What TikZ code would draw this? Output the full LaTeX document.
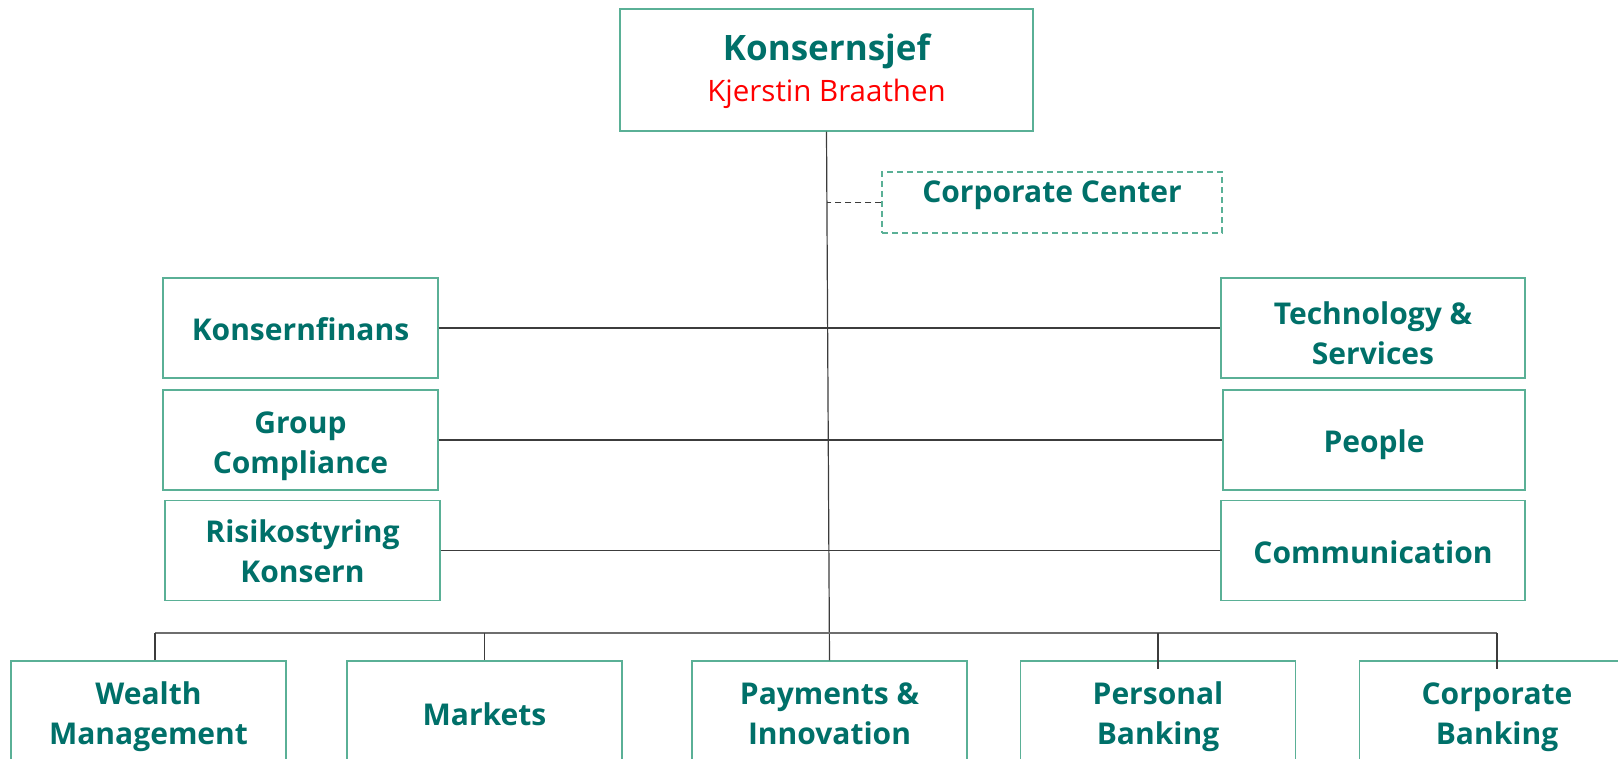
\documentclass[tikz,border=0pt]{standalone}
\usepackage{fontspec}
\setmainfont{Open Sans}
\definecolor{dnbteal}{RGB}{0,112,105}
\definecolor{boxgreen}{RGB}{90,176,150}
\definecolor{linegray}{RGB}{60,60,60}
\definecolor{busgray}{RGB}{110,110,110}
\begin{document}
\begin{tikzpicture}[x=1pt,y=-1pt,
  box/.style={draw=boxgreen, line width=1.4pt, fill=white, text=dnbteal,
    font=\bfseries\fontsize{30}{40}\selectfont, align=center, inner sep=0pt,
    minimum width=275pt, minimum height=100pt},
  oneline/.style={text height=25pt, text depth=0pt},
  twoline/.style={text height=#1, text depth=0pt},
  bottombox/.style={box, minimum height=104pt},
  conn/.style={draw=linegray, line width=1.2pt},
  busline/.style={draw=busgray, line width=2pt},
  dashconn/.style={draw=linegray, line width=1.3pt, dash pattern=on 6pt off 4pt}]
\useasboundingbox (0,0) rectangle (1618,759);

\node[box, minimum width=413pt, minimum height=122pt, text height=70pt, text depth=7pt] (boss) at (826.5,70)
  {{\fontsize{35}{42}\selectfont Konsernsjef}\\[1pt]{\color{red}\mdseries\fontsize{29.5}{34}\selectfont Kjerstin Braathen}};

\node[box, dashconn, draw=boxgreen, line width=1.2pt, minimum width=340pt, minimum height=61pt, text depth=22pt] (cc) at (1052,202.5) {Corporate Center};

\node[box, oneline] (kf) at (300.5,328) {Konsernfinans};
\node[box, twoline=66pt] (gc) at (300.5,440) {Group\\Compliance};
\node[box, twoline=64pt] (rk) at (302.5,550.5) {Risikostyring\\Konsern};
\node[box, twoline=73pt, minimum width=304pt] (ts) at (1373,328) {Technology \&\\Services};
\node[box, oneline, minimum width=302pt] (pe) at (1374,440) {People};
\node[box, oneline, minimum width=304pt] (co) at (1373,550.5) {Communication};

\node[bottombox, twoline=63pt] (wm) at (148.5,713) {Wealth\\Management};
\node[bottombox, oneline] (mk) at (484.5,713) {Markets};
\node[bottombox, twoline=63pt] (pi) at (829.5,713) {Payments \&\\Innovation};
\node[bottombox, twoline=63pt] (pb) at (1158,713) {Personal\\Banking};
\node[bottombox, twoline=63pt] (cb) at (1497,713) {Corporate\\Banking};

\coordinate (busL) at (155,633);
\coordinate (busR) at (1497,633);

\draw[conn] (boss.south) -- (pi.north);
\draw[dashconn] (cc.west) -- (cc.west -| boss.south);
\draw[conn] (kf.east) -- (ts.west);
\draw[conn] (gc.east) -- (pe.west);
\draw[conn] (rk.east) -- (co.west);
\draw[busline] (busL) -- (busR);
\draw[conn] (busL) -- (busL |- wm.north);
\draw[conn] (mk.north |- busL) -- (mk.north);
\draw[conn] (pb.north |- busL) -- ([yshift=-9pt]pb.north);
\draw[conn] (busR) -- ([yshift=-9pt]busR |- cb.north);
\end{tikzpicture}
\end{document}
